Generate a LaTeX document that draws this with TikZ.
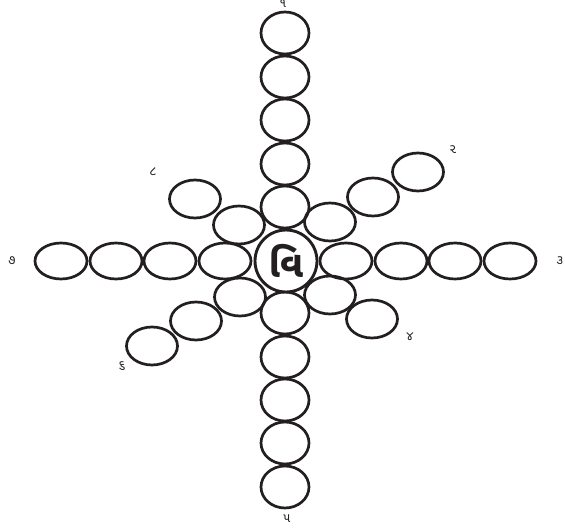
\documentclass[tikz,border=0pt]{standalone}
\usepackage{fontspec}
\newfontfamily\gujfont[Script=Gujarati]{Noto Sans Gujarati UI}
\usetikzlibrary{shapes.geometric}
\definecolor{ink}{HTML}{231F20}
\tikzset{
  petal/.style={ellipse,draw=ink,line width=2.7pt,inner sep=0pt,
    minimum width=51pt,minimum height=38pt},
  vpetal/.style={petal,minimum width=48pt,minimum height=42pt},
  hpetal/.style={petal,minimum width=52pt,minimum height=36pt},
  hub/.style={circle,draw=ink,fill=white,line width=2.9pt,minimum size=62pt,
    inner sep=0pt,font=\gujfont\bfseries\fontsize{37}{37}\selectfont,text=ink},
  num/.style={font=\gujfont\fontsize{13}{13}\selectfont,text=ink,inner sep=1pt},
}
\begin{document}
\begin{tikzpicture}[x=1pt,y=-1pt]
  \useasboundingbox (0,0) rectangle (565,529);
  % arms up and down
  \foreach \y [count=\i] in {33,77,120,164,207} \node[vpetal] (up\i) at (285,\y) {};
  \foreach \y [count=\i] in {313,357,400,443,487} \node[vpetal] (dn\i) at (285,\y) {};
  % arms left and right
  \foreach \x [count=\i] in {225,170,116,61} \node[hpetal] (lt\i) at (\x,261) {};
  \foreach \x [count=\i] in {346,401,455,510} \node[hpetal] (rt\i) at (\x,261) {};
  % diagonal arms
  \node[petal] (ur1) at (330,222) {};
  \node[petal] (ur2) at (373,197) {};
  \node[petal] (ur3) at (418,172) {};
  \node[petal] (ul1) at (239,225) {};
  \node[petal] (ul2) at (195,199) {};
  \node[petal] (dl1) at (240,297) {};
  \node[petal] (dl2) at (196,321) {};
  \node[petal] (dl3) at (152,346) {};
  \node[petal] (dr1) at (330,295) {};
  \node[petal] (dr2) at (372,319) {};

  \node[hub] (hub) at (286,261) {વિ};

  \node[num] (n1) at (283,4)   {૧};
  \node[num] (n2) at (453,150) {૨};
  \node[num] (n3) at (560,261) {૩};
  \node[num] (n4) at (410,337) {૪};
  \node[num] (n5) at (287,519) {૫};
  \node[num] (n6) at (122,366) {૬};
  \node[num] (n7) at (12,261)  {૭};
  \node[num] (n8) at (153,172) {૮};
\end{tikzpicture}
\end{document}
